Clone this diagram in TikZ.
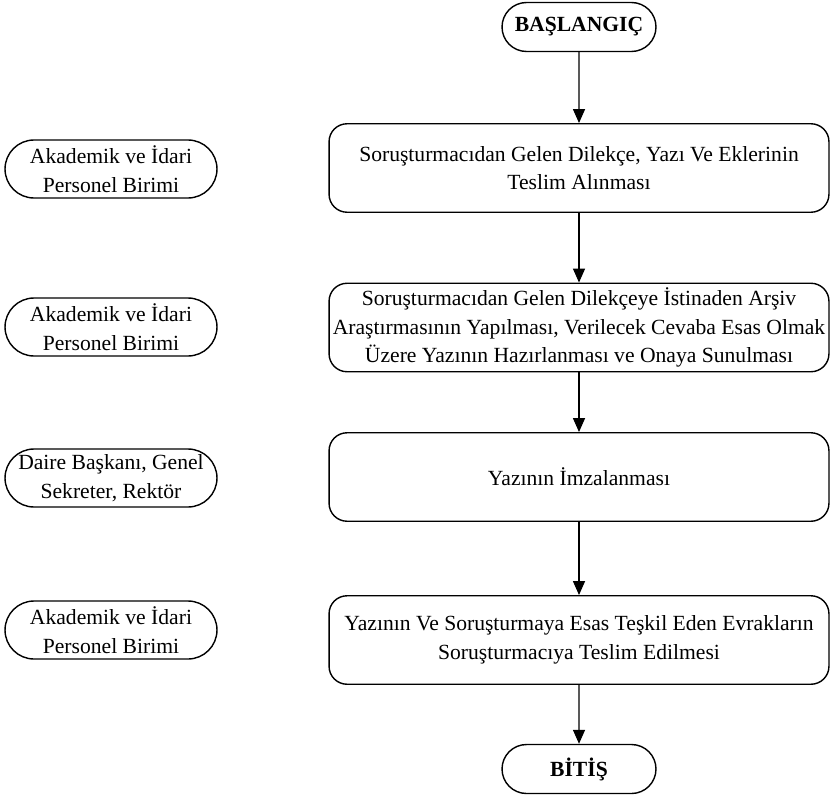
\documentclass[tikz,border=0pt]{standalone}
\usepackage{fontspec}
\setmainfont{Liberation Serif}
\usetikzlibrary{shapes.misc,arrows.meta}
\begin{document}
\begin{tikzpicture}[x=0.02cm,y=-0.02cm,
		yazi/.style={font=\fontsize{12.3}{16.2}\selectfont, align=center, draw, line width=0.8pt, inner sep=0pt},
		adim/.style={yazi, rounded corners=0.36cm, minimum width=10cm, minimum height=1.77cm},
		birim/.style={yazi, rounded rectangle, minimum width=4.24cm, minimum height=1.16cm},
		uc/.style={yazi, rounded rectangle, minimum width=3.08cm, minimum height=0.98cm, font=\fontsize{12.3}{16.2}\selectfont\bfseries},
		ok/.style={line width=0.8pt, -{Triangle[length=0.28cm,width=0.24cm]}}]
		\useasboundingbox (0,0) rectangle (830,804);
		% akis
		\node[uc] (bas) at (579,27) {BAŞLANGIÇ};
		\node[adim] (k1) at (579,168) {Soruşturmacıdan Gelen Dilekçe, Yazı Ve Eklerinin\\Teslim Alınması};
		\node[adim] (k2) at (579,327.5) {Soruşturmacıdan Gelen Dilekçeye İstinaden Arşiv\\Araştırmasının Yapılması, Verilecek Cevaba Esas Olmak\\Üzere Yazının Hazırlanması ve Onaya Sunulması};
		\node[adim] (k3) at (579,477) {Yazının İmzalanması};
		\node[adim] (k4) at (579,640) {Yazının Ve Soruşturmaya Esas Teşkil Eden Evrakların\\Soruşturmacıya Teslim Edilmesi};
		\node[uc] (bit) at (579,769) {BİTİŞ};
		% sorumlular
		\node[birim] (s1) at (111,169) {Akademik ve İdari\\Personel Birimi};
		\node[birim] (s2) at (111,327) {Akademik ve İdari\\Personel Birimi};
		\node[birim] (s3) at (111,478) {Daire Başkanı, Genel\\Sekreter, Rektör};
		\node[birim] (s4) at (111,630) {Akademik ve İdari\\Personel Birimi};
		\foreach\a/\b in{bas/k1, k1/k2, k2/k3, k3/k4, k4/bit}{
			\draw[ok] (\a) -- (\b);
		}
	\end{tikzpicture}
\end{document}
